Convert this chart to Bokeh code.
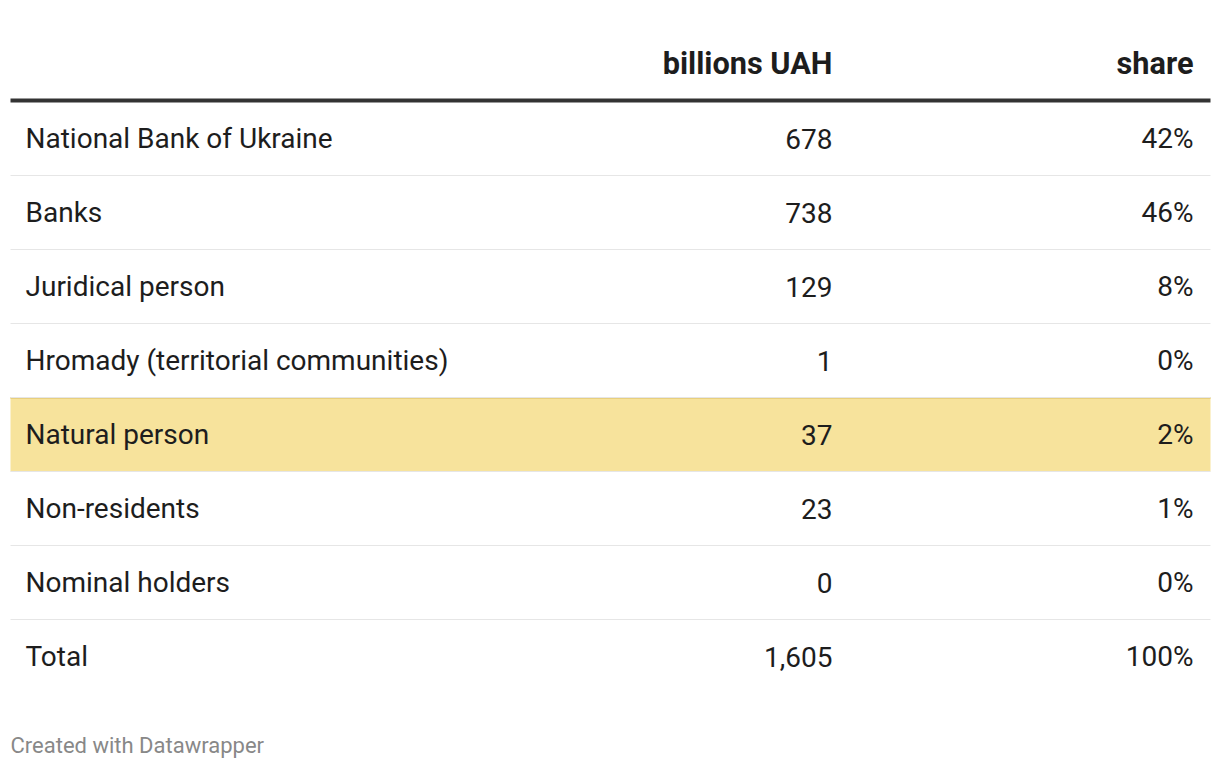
from bokeh.plotting import figure
from bokeh.models import Range1d, ColumnDataSource
from bokeh.core.properties import value
from bokeh.embed import file_html
from bokeh.resources import INLINE

# ---- data ----
categories = ["National Bank of Ukraine", "Banks", "Juridical person",
              "Hromady (territorial communities)", "Natural person",
              "Non-residents", "Nominal holders", "Total"]
billions_uah = [678, 738, 129, 1, 37, 23, 0, 1605]
share_pct = [42, 46, 8, 0, 2, 1, 0, 100]
headers = ["billions UAH", "share"]
highlight = "Natural person"
footer = "Created with Datawrapper"

# ---- layout (pixel space) ----
W, H = 1212, 760
FONT = "Roboto"
TABLE_L, TABLE_R = 10, 1210
HEADER_Y = 63
RULE_Y = 100
ROW_TOP = 101
ROW_H = 74
LABEL_X = 25
COL1_X = 832
COL2_X = 1193

p = figure(width=W, height=H, output_backend="svg", toolbar_location=None,
           x_range=Range1d(0, W), y_range=Range1d(H, 0),
           min_border=0, outline_line_color=None)
p.axis.visible = False
p.grid.visible = False
p.background_fill_color = "white"

n = len(categories)
tops = [ROW_TOP + i * ROW_H for i in range(n)]
centers = [t + ROW_H / 2 for t in tops]

# highlighted row background
hi = categories.index(highlight)
p.quad(left=[TABLE_L], right=[TABLE_R], top=[tops[hi]], bottom=[tops[hi] + ROW_H],
       fill_color="#f7e39c", line_color=None)
p.segment(x0=[TABLE_L], x1=[TABLE_R], y0=[tops[hi] + 0.5], y1=[tops[hi] + 0.5],
          line_color="#e8cf7d", line_width=2)

# row separators
seps = [t + ROW_H for t in tops[:-1]]
p.segment(x0=[TABLE_L] * len(seps), x1=[TABLE_R] * len(seps), y0=seps, y1=seps,
          line_color="#e6e6e6", line_width=1)

# header rule
p.segment(x0=[TABLE_L], x1=[TABLE_R], y0=[RULE_Y], y1=[RULE_Y],
          line_color="#333333", line_width=4)

# headers
p.text(x=[COL1_X, COL2_X], y=[HEADER_Y, HEADER_Y], text=headers,
       text_font=value(FONT), text_font_size="30.7px", text_font_style="bold",
       text_align="right", text_baseline="middle", text_color="#1d1d1d")

src = ColumnDataSource(dict(
    y=centers,
    cat=categories,
    val=[f"{v:,}" for v in billions_uah],
    shr=[f"{s}%" for s in share_pct],
))
for xcol, tcol, align in ((LABEL_X, "cat", "left"), (COL1_X, "val", "right"),
                          (COL2_X, "shr", "right")):
    p.text(x=xcol, y="y", text=tcol, source=src, text_font=value(FONT),
           text_font_size="28px", text_align=align, text_baseline="middle",
           text_color="#1d1d1d")

# footer
p.text(x=[10], y=[745], text=[footer], text_font=value(FONT),
       text_font_size="22px", text_align="left", text_baseline="middle",
       text_color="#888888")

open("out.html", "w").write(file_html(p, INLINE))
